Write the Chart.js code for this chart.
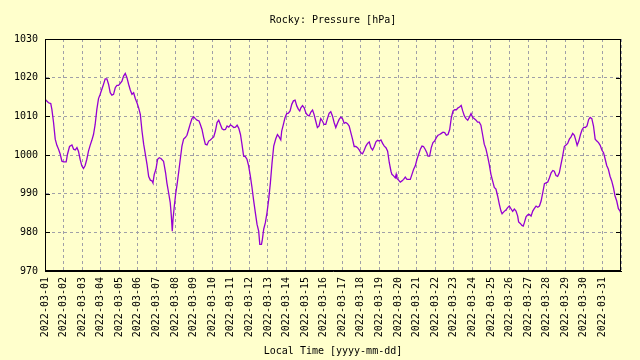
<!DOCTYPE html>
<html>
<head>
<meta charset="utf-8">
<script src="https://cdn.jsdelivr.net/npm/chart.js@4"></script>
<style>
  html, body { margin: 0; padding: 0; background: #ffffcc; }
  #wrap { width: 640px; height: 360px; }
</style>
</head>
<body>
<div id="wrap"><canvas id="chart" width="640" height="360"></canvas></div>
<script>
// tick labels, one per day (x = days since 2022-03-01 00:00)
const dateLabels = [
  "2022-03-01", "2022-03-02", "2022-03-03", "2022-03-04", "2022-03-05", "2022-03-06",
  "2022-03-07", "2022-03-08", "2022-03-09", "2022-03-10", "2022-03-11", "2022-03-12",
  "2022-03-13", "2022-03-14", "2022-03-15", "2022-03-16", "2022-03-17", "2022-03-18",
  "2022-03-19", "2022-03-20", "2022-03-21", "2022-03-22", "2022-03-23", "2022-03-24",
  "2022-03-25", "2022-03-26", "2022-03-27", "2022-03-28", "2022-03-29", "2022-03-30",
  "2022-03-31"
];
const yTicks = [970, 980, 990, 1000, 1010, 1020, 1030];

// sample times, in days since the start of the month
const dayOffset = [
  0.00, 0.19, 0.31, 0.37, 0.46, 0.55, 0.64, 0.73, 0.82, 0.91, 1.00, 1.14, 1.21, 1.32, 1.45, 1.54,
  1.63, 1.72, 1.80, 1.89, 1.98, 2.07, 2.16, 2.25, 2.34, 2.43, 2.52, 2.61, 2.70, 2.79, 2.88, 2.97,
  3.06, 3.15, 3.24, 3.33, 3.42, 3.51, 3.60, 3.69, 3.78, 3.87, 3.96, 4.05, 4.14, 4.23, 4.32, 4.41,
  4.50, 4.59, 4.68, 4.77, 4.86, 4.95, 5.04, 5.13, 5.22, 5.31, 5.40, 5.49, 5.58, 5.67, 5.76, 5.81,
  5.88, 5.97, 6.06, 6.15, 6.24, 6.38, 6.49, 6.56, 6.65, 6.74, 6.80, 6.85, 6.89, 6.96, 7.03, 7.12,
  7.19, 7.28, 7.37, 7.46, 7.55, 7.64, 7.73, 7.82, 7.91, 8.00, 8.09, 8.18, 8.29, 8.36, 8.45, 8.54,
  8.63, 8.72, 8.81, 8.90, 8.99, 9.08, 9.17, 9.26, 9.35, 9.44, 9.53, 9.62, 9.71, 9.80, 9.89, 9.98,
  10.07, 10.16, 10.25, 10.34, 10.43, 10.52, 10.60, 10.69, 10.78, 10.87, 10.96, 11.05, 11.14, 11.23,
  11.32, 11.41, 11.50, 11.56, 11.65, 11.70, 11.77, 11.86, 11.95, 12.04, 12.13, 12.22, 12.31, 12.42,
  12.51, 12.60, 12.69, 12.74, 12.83, 12.92, 13.01, 13.10, 13.19, 13.28, 13.37, 13.46, 13.55, 13.64,
  13.71, 13.77, 13.86, 13.95, 14.04, 14.13, 14.22, 14.31, 14.40, 14.48, 14.57, 14.66, 14.75, 14.84,
  14.93, 15.02, 15.11, 15.20, 15.29, 15.38, 15.47, 15.56, 15.65, 15.74, 15.83, 15.92, 16.01, 16.10,
  16.19, 16.28, 16.37, 16.46, 16.55, 16.64, 16.73, 16.82, 16.91, 17.00, 17.09, 17.18, 17.27, 17.36,
  17.45, 17.54, 17.63, 17.72, 17.81, 17.90, 17.99, 18.08, 18.17, 18.26, 18.35, 18.44, 18.53, 18.62,
  18.67, 18.76, 18.85, 18.90, 18.94, 19.03, 19.12, 19.21, 19.30, 19.39, 19.48, 19.57, 19.66, 19.75,
  19.84, 19.93, 20.02, 20.11, 20.20, 20.29, 20.37, 20.46, 20.55, 20.61, 20.70, 20.79, 20.88, 20.97,
  21.06, 21.15, 21.24, 21.33, 21.42, 21.51, 21.60, 21.69, 21.78, 21.87, 21.96, 22.05, 22.14, 22.23,
  22.31, 22.40, 22.48, 22.57, 22.66, 22.75, 22.84, 22.93, 23.02, 23.11, 23.20, 23.28, 23.37, 23.46,
  23.55, 23.64, 23.73, 23.82, 23.91, 24.00, 24.09, 24.18, 24.27, 24.36, 24.45, 24.54, 24.60, 24.69,
  24.78, 24.81, 24.90, 24.99, 25.08, 25.17, 25.26, 25.35, 25.44, 25.49, 25.58, 25.67, 25.74, 25.80,
  25.89, 25.98, 26.07, 26.16, 26.25, 26.34, 26.43, 26.52, 26.61, 26.70, 26.79, 26.88, 26.97, 27.06,
  27.15, 27.24, 27.33, 27.41, 27.50, 27.59, 27.68, 27.77, 27.86, 27.95, 28.04, 28.13, 28.22, 28.31,
  28.40, 28.49, 28.58, 28.64, 28.73, 28.82, 28.91, 29.00, 29.08, 29.17, 29.26, 29.34, 29.43, 29.52,
  29.61, 29.70, 29.79, 29.88, 29.97, 30.06, 30.15, 30.23, 30.32, 30.41, 30.50, 30.59, 30.68, 30.77,
  30.86, 30.95, 31.00
];

// pressure in hPa
const pressure = [
  1014.4, 1013.5, 1013.3, 1011.8, 1008.4, 1004.1, 1002.5, 1001.5, 1000.2, 998.4, 998.2, 998.2, 1000.2, 1002.2, 1002.6, 1001.5,
  1001.3, 1001.9, 1001.0, 998.9, 997.2, 996.5, 997.3, 998.9, 1001.0, 1002.5, 1003.8, 1005.3, 1007.9, 1011.8, 1014.6, 1015.7,
  1017.0, 1018.3, 1019.7, 1019.7, 1018.3, 1016.1, 1015.5, 1015.7, 1017.4, 1018.0, 1018.0, 1018.5, 1019.1, 1020.4, 1021.1, 1020.0,
  1018.3, 1016.8, 1015.7, 1016.1, 1014.6, 1013.5, 1012.2, 1010.5, 1006.2, 1002.8, 1000.2, 997.6, 994.4, 993.5, 993.3, 992.8,
  995.0, 996.3, 998.9, 999.3, 999.1, 998.4, 995.4, 992.8, 990.3, 987.7, 984.2, 980.3, 983.4, 986.8, 989.8, 992.8,
  995.4, 998.9, 1002.3, 1004.1, 1004.5, 1005.1, 1006.6, 1008.1, 1009.4, 1009.9, 1009.4, 1009.0, 1008.8, 1007.9, 1006.6, 1004.5,
  1002.8, 1002.6, 1003.6, 1003.9, 1004.3, 1004.7, 1006.2, 1008.4, 1009.0, 1007.9, 1006.8, 1006.5, 1006.6, 1007.5, 1007.2, 1007.8,
  1007.5, 1007.1, 1007.2, 1007.7, 1006.9, 1005.3, 1002.8, 999.7, 999.6, 998.9, 997.2, 994.6, 991.6, 988.2,
  985.1, 982.1, 980.3, 976.9, 976.9, 978.2, 980.8, 982.5, 985.1, 988.6, 992.8, 998.0, 1002.3, 1004.2,
  1005.3, 1004.7, 1003.9, 1006.2, 1007.9, 1009.7, 1010.7, 1010.8, 1011.4, 1013.1, 1014.0, 1014.2, 1012.7, 1011.8,
  1011.4, 1012.2, 1012.8, 1012.2, 1010.9, 1010.3, 1010.1, 1011.1, 1011.6, 1010.5, 1008.8, 1007.1, 1007.5, 1009.4,
  1008.8, 1007.9, 1007.9, 1009.4, 1010.8, 1011.2, 1010.1, 1008.4, 1007.1, 1008.2, 1009.2, 1009.8, 1009.4, 1008.2,
  1008.4, 1008.1, 1007.5, 1005.8, 1004.1, 1002.2, 1002.2, 1001.9, 1001.3, 1000.6, 1000.3, 1001.2, 1002.3, 1003.0,
  1003.4, 1001.9, 1001.3, 1002.2, 1003.4, 1003.8, 1003.6, 1003.9, 1003.0, 1002.3, 1001.9, 1001.0, 998.0, 995.8,
  995.0, 994.6, 994.1, 995.0, 993.9, 993.5, 993.0, 993.3, 993.7, 994.3, 993.7, 993.7, 993.7, 995.0,
  996.3, 997.2, 998.9, 1000.2, 1001.5, 1002.3, 1002.2, 1001.5, 1000.6, 999.7, 999.7, 1001.9, 1003.2, 1003.6,
  1004.5, 1005.1, 1005.3, 1005.6, 1005.9, 1005.8, 1005.1, 1005.3, 1006.6, 1009.7, 1011.4, 1011.7, 1011.7, 1012.2,
  1012.4, 1012.8, 1011.4, 1010.1, 1009.4, 1009.0, 1009.8, 1010.7, 1009.7, 1009.4, 1009.0, 1008.5, 1008.5, 1007.7,
  1005.3, 1002.8, 1001.6, 999.7, 997.6, 995.0, 993.3, 991.6, 991.2, 989.4, 987.3, 985.5, 984.8, 985.3,
  985.7, 985.8, 986.4, 986.8, 986.1, 985.4, 986.0, 985.5, 984.2, 982.7, 982.3, 981.8, 981.6, 982.5,
  984.0, 984.5, 984.6, 984.2, 985.5, 986.2, 986.8, 986.5, 986.8, 988.1, 990.3, 992.6, 992.8, 993.0,
  994.1, 995.4, 996.0, 995.8, 994.7, 994.5, 995.4, 997.6, 999.7, 1002.2, 1002.6, 1003.0, 1004.1, 1004.7,
  1005.6, 1005.1, 1003.6, 1002.5, 1003.6, 1005.3, 1006.6, 1007.2, 1007.1, 1007.5, 1009.2, 1009.7, 1009.4, 1007.5,
  1004.1, 1003.6, 1003.2, 1002.5, 1001.3, 1000.6, 998.9, 997.3, 996.3, 994.5, 993.3, 991.6, 989.4, 988.1,
  986.1, 985.5, 984.6
];

const monoFont = { family: "'DejaVu Sans Mono', monospace", size: 10, weight: "normal" };
const gridColor = "#a0a0a8";

// black frame round the plot, with short inward ticks on both y sides
const framePlugin = {
  id: "frame",
  afterDraw(chart) {
    const { ctx, chartArea: a, scales } = chart;
    ctx.save();
    ctx.strokeStyle = "#000";
    ctx.lineWidth = 1;
    ctx.strokeRect(a.left + 0.5, a.top + 0.5, a.right - a.left - 1, a.bottom - a.top - 1);
    ctx.beginPath();
    yTicks.forEach((v) => {
      const y = Math.round(scales.y.getPixelForValue(v)) + 0.5;
      ctx.moveTo(a.left, y);
      ctx.lineTo(a.left + 5, y);
      ctx.moveTo(a.right - 5, y);
      ctx.lineTo(a.right, y);
    });
    ctx.stroke();
    ctx.restore();
  },
};

const ctx = document.getElementById("chart").getContext("2d");
const points = dayOffset.map((d, i) => ({ x: d, y: pressure[i] }));

const chart = new Chart(ctx, {
  type: "line",
  data: {
    datasets: [
      {
        data: points,
        borderColor: "#9400d3",
        borderWidth: 1.3,
        pointRadius: 0,
        tension: 0,
        fill: false,
      },
    ],
  },
  options: {
    responsive: false,
    animation: false,
    devicePixelRatio: 1,
    layout: { padding: { left: 0, right: 19, top: 0, bottom: 0 } },
    plugins: {
      legend: { display: false },
      tooltip: { enabled: false },
      title: {
        display: true,
        text: "Rocky: Pressure [hPa]",
        fullSize: false,
        color: "#000",
        font: monoFont,
        padding: { top: 14, bottom: 13 },
      },
    },
    scales: {
      x: {
        type: "linear",
        min: 0,
        max: 31,
        afterFit: (scale) => { scale.height = 89; },
        ticks: {
          stepSize: 1,
          autoSkip: false,
          minRotation: 90,
          maxRotation: 90,
          padding: 6,
          color: "#000",
          font: monoFont,
          callback: (v) => dateLabels[v] || "",
        },
        grid: { color: gridColor, drawTicks: false, lineWidth: 1 },
        border: { display: true, color: "#000", dash: [3, 3] },
        title: {
          display: true,
          text: "Local Time [yyyy-mm-dd]",
          color: "#000",
          font: monoFont,
          padding: { top: 0, bottom: 3 },
        },
      },
      y: {
        min: 970,
        max: 1030,
        afterFit: (scale) => { scale.width = 45; },
        ticks: {
          stepSize: 10,
          padding: 7,
          color: "#000",
          font: monoFont,
          callback: (v) => String(v),
        },
        grid: { color: gridColor, drawTicks: false, lineWidth: 1 },
        border: { display: true, color: "#000", dash: [3, 3] },
      },
    },
  },
  plugins: [framePlugin],
});
</script>
</body>
</html>
